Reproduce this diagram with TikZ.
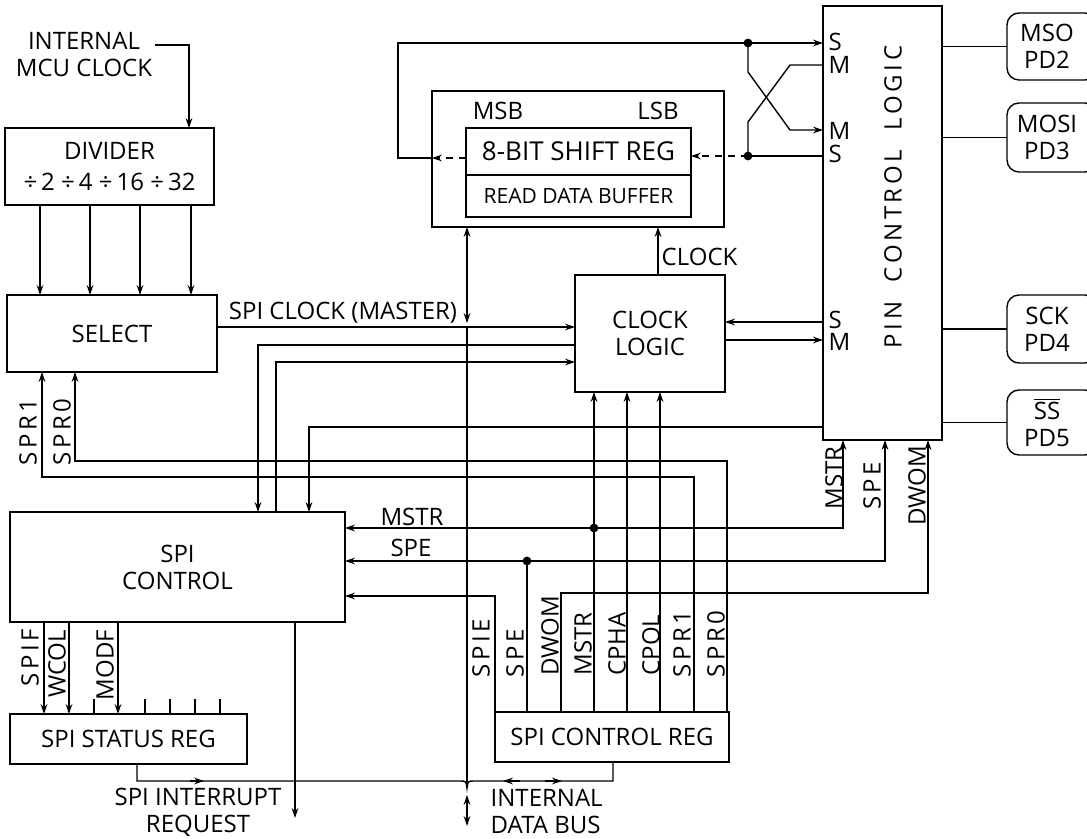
\documentclass[tikz,border=0pt]{standalone}
\usepackage{fontspec}
\setmainfont{Open Sans}
\usetikzlibrary{arrows.meta,positioning}
\newcommand\lbfont{\fontsize{12}{13.5}\selectfont}
\newcommand\spcfont{\lbfont\addfontfeature{LetterSpace=15}}
\tikzset{
  blk/.style={draw,line width=0.7pt,inner sep=0pt,outer sep=0pt,align=center},
  pad/.style={blk,rounded corners=6pt,minimum width=45pt,anchor=west},
  arr/.style={-{Stealth[length=5pt,width=3.4pt]}},
  dbl/.style={{Stealth[length=5pt,width=3.4pt]}-{Stealth[length=5pt,width=3.4pt]}},
  dsh/.style={dash pattern=on 3.5pt off 3pt},
  dot/.style={circle,fill,inner sep=0pt,minimum size=4.4pt},
  lbl/.style={inner sep=1pt},
  vlbl/.style={rotate=90,inner sep=0pt},
  spc/.style={font=\spcfont},
  smlbl/.style={anchor=west,inner sep=0pt,align=left},
}
\begin{document}
\begin{tikzpicture}[x=0.5pt,y=-0.5pt,font=\lbfont,line width=0.7pt]
  \useasboundingbox (0,0) rectangle (1087,839);
  % blocks
  \node[blk,minimum width=104.5pt,minimum height=38.5pt] (div) at (109.5,166.5) {DIVIDER\\[2pt]÷\,2 ÷\,4 ÷\,16 ÷\,32};
  \node[blk,minimum width=105pt,minimum height=38.5pt] (sel) at (112,333.5) {SELECT};
  \node[blk,minimum width=146pt,minimum height=68pt] (sr) at (578,159) {};
  \node[blk,minimum width=112.5pt,minimum height=23.5pt,font=\fontsize{13}{15}\selectfont] (shr) at (578.5,151.5) {8-BIT SHIFT REG};
  \node[blk,minimum width=112.5pt,minimum height=21pt,font=\fontsize{10.5}{12}\selectfont] (rdb) at (578.5,196) {READ DATA BUFFER};
  \node[blk,minimum width=75pt,minimum height=58.5pt] (clk) at (650,333.5) {CLOCK\\LOGIC};
  \node[blk,minimum width=59.5pt,minimum height=217pt] (pin) at (882.5,223) {};
  \node[blk,minimum width=167.5pt,minimum height=55pt] (ctl) at (177.5,567) {SPI\\CONTROL};
  \node[blk,minimum width=118.5pt,minimum height=25pt] (str) at (128.5,739) {SPI STATUS REG};
  \node[blk,minimum width=117pt,minimum height=25pt] (creg) at (612,737) {SPI CONTROL REG};
  \node[vlbl,spc] (pcl) at (893,197) {PIN \ CONTROL \ LOGIC};
  \node[lbl] (msb) at (498,111) {MSB};
  \node[lbl] (lsb) at (658,111) {LSB};
  % port pins
  \node[pad,minimum height=33.5pt] (mso) at (1007,46.5) {MSO\hspace*{5pt}\\PD2\hspace*{5pt}};
  \node[pad,minimum height=34.5pt] (mosi) at (1007,137.5) {MOSI\hspace*{5pt}\\PD3\hspace*{5pt}};
  \node[pad,minimum height=34pt] (sck) at (1007,329) {SCK\hspace*{5pt}\\PD4\hspace*{5pt}};
  \node[pad,minimum height=32.5pt] (ss) at (1007,422.5) {\(\overline{\mbox{SS}}\)\hspace*{5pt}\\PD5\hspace*{5pt}};
  \foreach \p in {mso,mosi,sck,ss}
    \draw (pin.east |- \p) -- (\p);

  % clock input and divider
  \node[lbl,align=center] (mcu) at (84,55) {INTERNAL\\MCU CLOCK};
  \draw[arr] (mcu.east |- 0,45) -| (div.north -| 189,0);
  \foreach \x in {40,90,140,191}
    \draw[arr] (div.south -| \x,0) -- (sel.north -| \x,0);
  \draw[arr] (sel.east |- 0,327) -- (clk.west |- 0,327);
  \node[lbl] (sckm) at (343,313) {SPI CLOCK (MASTER)};

  % clock logic <-> spi control
  \draw[arr] (clk.west |- 0,345) -| (ctl.north -| 258,0);
  \draw[arr] (ctl.north -| 276,0) |- (clk.west |- 0,362);
  \draw[arr] (pin.west |- 0,427) -| (ctl.north -| 309,0);
  \draw[arr] (pin.west |- 0,322) -- (clk.east |- 0,322);
  \draw[arr] (clk.east |- 0,340) -- (pin.west |- 0,340);
  \draw[arr] (clk.north -| 658,0) -- (sr.south -| 658,0);
  \node[lbl,anchor=west] (clkl) at (659,257) {CLOCK};

  % rate select bits back to SELECT
  \draw[arr] (creg.north -| 727,0) |- (75,461) -- (sel.south -| 75,0);
  \draw[arr] (creg.north -| 694,0) |- (42,477) -- (sel.south -| 42,0);
  \node[vlbl,spc] (spr1l) at (28,432) {SPR1};
  \node[vlbl,spc] (spr0l) at (62,432) {SPR0};

  % control register bits
  \foreach \x in {594,627,660}
    \draw[arr] (creg.north -| \x,0) -- (clk.south -| \x,0);
  \coordinate (mstr) at (594,528);
  \coordinate (spe) at (527,561);
  \draw[arr] (mstr) -- (ctl.east |- mstr);
  \draw[arr] (mstr) -| (pin.south -| 843,0);
  \draw (creg.north -| spe) -- (spe);
  \draw[arr] (spe) -- (ctl.east |- spe);
  \draw[arr] (spe) -| (pin.south -| 885,0);
  \draw[arr] (creg.north -| 561,0) |- (928,593) -- (pin.south -| 928,0);
  \draw[arr] (creg.north west) |- (ctl.east |- 0,596);
  \node[dot] (dm) at (mstr) {};
  \node[dot] (ds) at (spe) {};
  \node[lbl] (mstrl) at (412,517) {MSTR};
  \node[lbl] (spel) at (411,548) {SPE};
  \foreach \x/\t/\s in {481/SPIE/spc,515/SPE/spc,550/DWOM/lbl,583/MSTR/lbl,617/CPHA/lbl,651/CPOL/lbl,682/SPR1/spc,716/SPR0/spc}
    \node[vlbl,\s,anchor=west] (b\t) at (\x,678) {\t};
  \node[vlbl,anchor=east] (pmstr) at (834,446) {MSTR};
  \node[vlbl,spc,anchor=east] (pspe) at (872,461) {SPE};
  \node[vlbl,anchor=east] (pdwom) at (917,445) {DWOM};

  % serial data paths, master/slave cross-over
  \coordinate (so) at (748,43);
  \coordinate (si) at (748,156);
  \draw[dsh,arr] (shr.west |- 0,158) -- (sr.west |- 0,158);
  \draw[arr] (sr.west |- 0,158) -| (398,43) -- (pin.west |- so);
  \draw[arr] (so) -- (748,72) -- (790,130) -- (pin.west |- 0,130);
  \draw (pin.west |- 0,65) -- (790,65) -- (748,122) -- (si);
  \draw (pin.west |- si) -- (si);
  \draw[dsh,arr] (si) -- (shr.east |- si);
  \node[dot] (dso) at (so) {};
  \node[dot] (dsi) at (si) {};
  \node[smlbl,font=\fontsize{12}{11.5}\selectfont] (smtop) at (828,53.5) {S\\M};
  \node[smlbl,font=\fontsize{12}{11.5}\selectfont] (smmid) at (828,142.5) {M\\S};
  \node[smlbl,font=\fontsize{12}{11}\selectfont] (smclk) at (828,331) {S\\M};

  % status register
  \foreach \x in {44,69,118}
    \draw[arr] (ctl.south -| \x,0) -- (str.north -| \x,0);
  \foreach \x in {94,145,170,195,220}
    \draw (str.north -| \x,0) -- (\x,699);
  \node[vlbl,spc] (spifl) at (30,658) {SPIF};
  \node[vlbl] (wcoll) at (57,664) {WCOL};
  \node[vlbl] (modfl) at (105,665) {MODF};

  % internal data bus
  \coordinate (bj) at (467,788);
  \draw (str.south -| 137,0) |- (460,781) .. controls (466,781) .. (bj)
    .. controls (468,781) .. (474,781) -| (creg.south -| 613,0);
  \draw[arr] (190,781) -- (204,781);
  \draw[arr] (520,781) -- (503,781);
  \draw[arr] (545,781) -- (562,781);
  \draw[dbl] (sr.south -| 467,0) -- (467,323);
  \draw (467,327) -- (bj);
  \draw[dbl] (467,795) -- (467,826);
  \node[lbl,anchor=west,align=left] (bus) at (488,812) {INTERNAL\\DATA BUS};

  % interrupt request
  \draw[arr] (ctl.south -| 295,0) -- (295,818);
  \node[lbl,align=center] (irq) at (198,812) {SPI INTERRUPT\\REQUEST};
\end{tikzpicture}
\end{document}
